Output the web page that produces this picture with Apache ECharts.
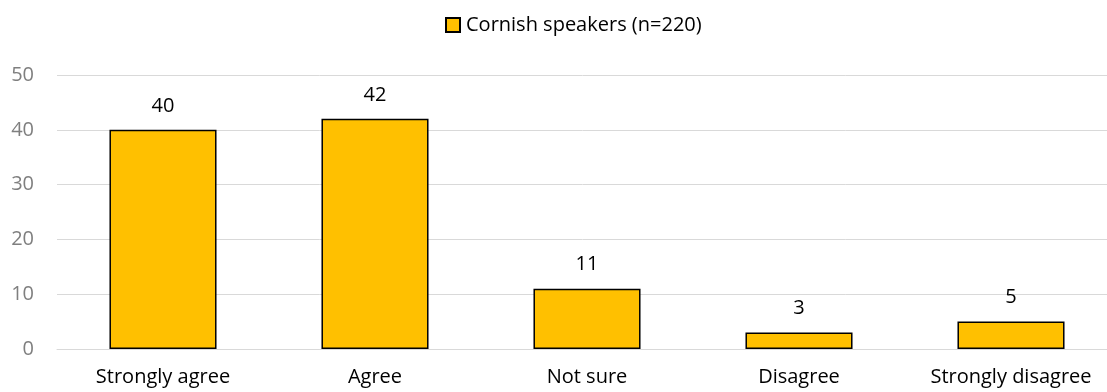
<!DOCTYPE html>
<html>
<head>
<meta charset="utf-8">
<script src="https://cdn.jsdelivr.net/npm/echarts@6/dist/echarts.min.js"></script>
<style>
  html, body { margin: 0; padding: 0; background: #fff; overflow: hidden; }
  #chart { width: 1107px; height: 392px; }
</style>
</head>
<body>
<div id="chart"></div>
<script>
// Survey responses, percentage of respondents
const categories = ['Strongly agree', 'Agree', 'Not sure', 'Disagree', 'Strongly disagree'];
const seriesName = 'Cornish speakers (n=220)';
const values = [40, 42, 11, 3, 5];
const yTicks = [0, 10, 20, 30, 40, 50];

const fontFamily = '"Open Sans", "Liberation Sans", sans-serif';
const chart = echarts.init(document.getElementById('chart'));

chart.setOption({
  animation: false,
  textStyle: { fontFamily: fontFamily },
  legend: {
    top: 10,
    left: 440,
    icon: 'rect',
    itemWidth: 14,
    itemHeight: 14,
    itemGap: 6,
    textStyle: { fontSize: 20, color: '#000', fontFamily: fontFamily, padding: [0, 0, 0, 1] },
    data: [seriesName]
  },
  // plot area runs slightly past the right edge of the canvas
  grid: { left: 57, right: -10, top: 75, bottom: 43, containLabel: false, outerBoundsMode: 'none' },
  xAxis: {
    type: 'category',
    data: categories,
    axisTick: { show: false },
    axisLine: { show: true, lineStyle: { color: '#d9d9d9', width: 1 } },
    axisLabel: { fontSize: 20, color: '#000', margin: 18, fontFamily: fontFamily, interval: 0 }
  },
  yAxis: {
    type: 'value',
    min: yTicks[0],
    max: yTicks[yTicks.length - 1],
    interval: yTicks[1] - yTicks[0],
    axisLine: { show: false },
    axisTick: { show: false },
    splitLine: { lineStyle: { color: '#d9d9d9', width: 1 } },
    axisLabel: { fontSize: 20, color: '#7f7f7f', margin: 23, fontFamily: fontFamily }
  },
  series: [{
    name: seriesName,
    type: 'bar',
    data: values,
    barWidth: '50.5%',
    itemStyle: { color: '#FFC000', borderColor: '#000', borderWidth: 1.5 },
    label: { show: true, position: 'top', distance: 14, fontSize: 20, color: '#000', fontFamily: fontFamily }
  }]
});
</script>
</body>
</html>
